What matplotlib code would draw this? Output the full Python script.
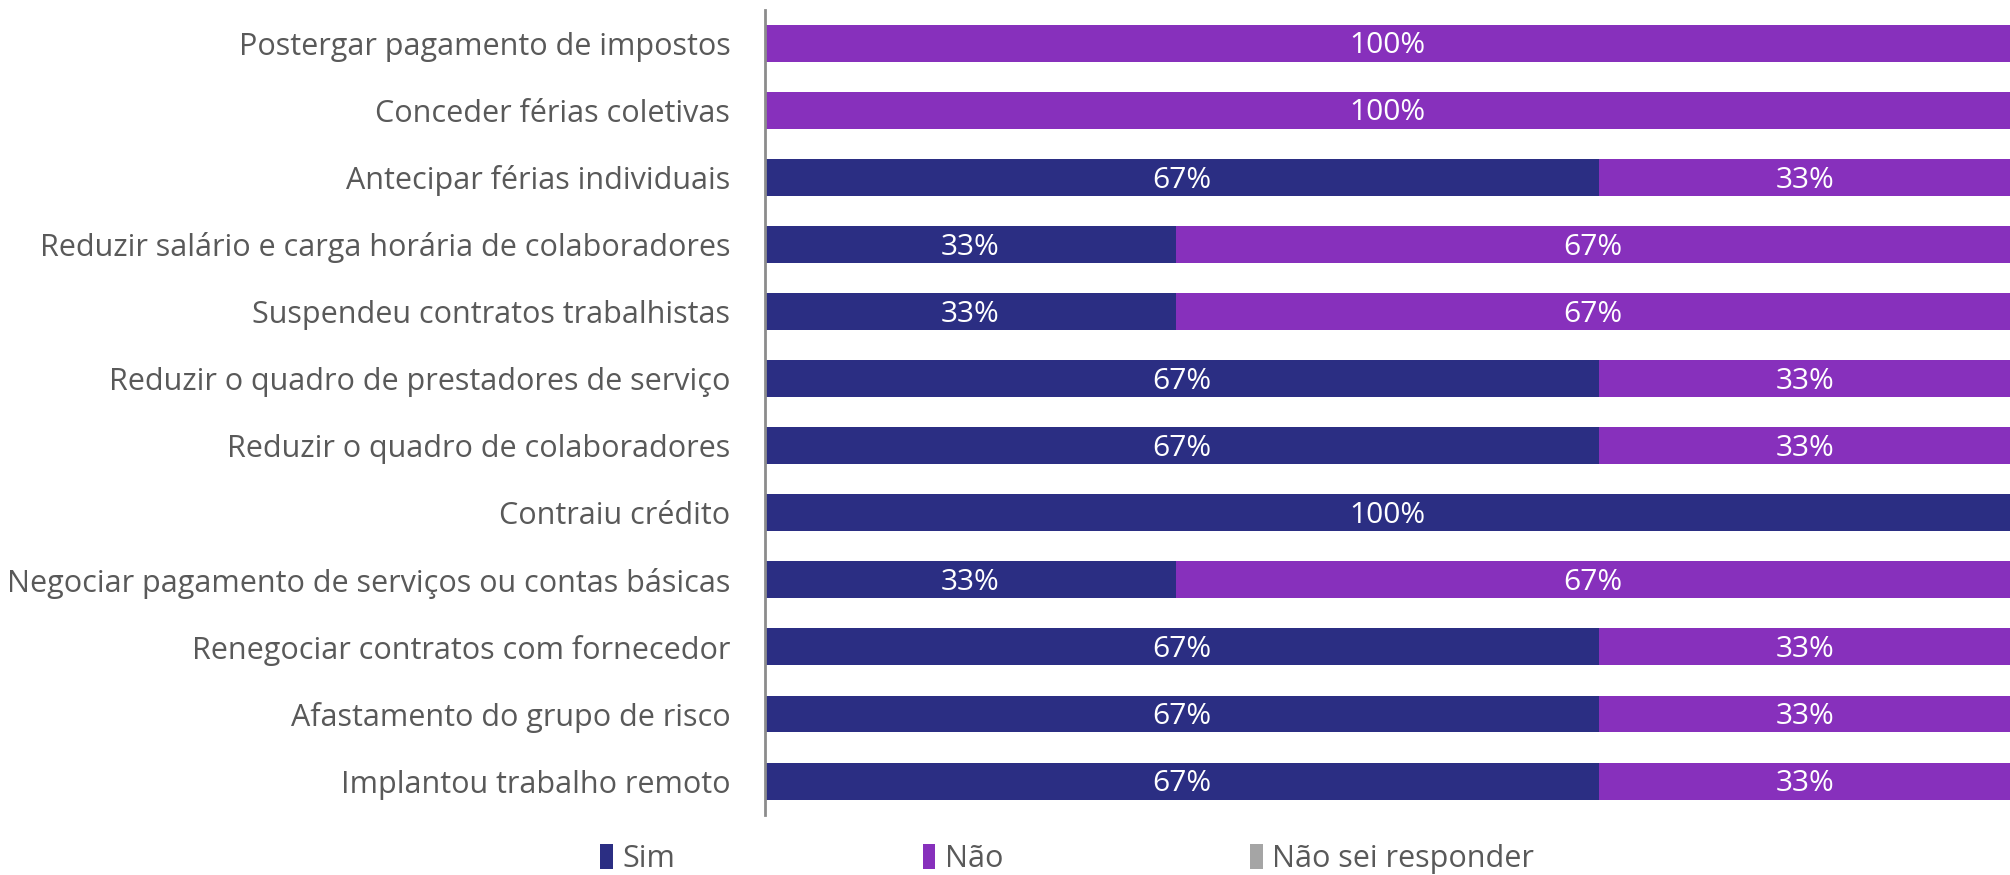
import numpy as np
import matplotlib
matplotlib.use("Agg")
import matplotlib.pyplot as plt
from matplotlib.patches import Patch

plt.rcParams['font.family'] = ['Open Sans', 'DejaVu Sans']

categorias = [
    "Postergar pagamento de impostos",
    "Conceder férias coletivas",
    "Antecipar férias individuais",
    "Reduzir salário e carga horária de colaboradores",
    "Suspendeu contratos trabalhistas",
    "Reduzir o quadro de prestadores de serviço",
    "Reduzir o quadro de colaboradores",
    "Contraiu crédito",
    "Negociar pagamento de serviços ou contas básicas",
    "Renegociar contratos com fornecedor",
    "Afastamento do grupo de risco",
    "Implantou trabalho remoto",
]
sim = [0, 0, 67, 33, 33, 67, 67, 100, 33, 67, 67, 67]
nao = [100, 100, 33, 67, 67, 33, 33, 0, 67, 33, 33, 33]
nao_sei = [0] * 12

series = ["Sim", "Não", "Não sei responder"]
cores = ["#2B2E83", "#8730BC", "#A5A5A5"]

fig = plt.figure(figsize=(20.10, 8.75), dpi=100)
ax = fig.add_axes([0.3806, 0.069, 0.6194, 0.9200])

y = np.arange(len(categorias))
esquerda = np.zeros(len(categorias))
for valores, cor in zip([sim, nao, nao_sei], cores):
    valores = np.array(valores, dtype=float)
    ax.barh(y, valores, left=esquerda, height=0.55, color=cor, edgecolor='none')
    for yi, l, v in zip(y, esquerda, valores):
        if v > 0:
            ax.text(l + v / 2, yi + 0.04, f"{v:.0f}%", ha='center', va='center',
                    color='white', fontsize=21.5)
    esquerda += valores

ax.set_xlim(0, 100)
ax.set_ylim(len(categorias) - 0.5, -0.5)
ax.set_yticks(y)
ax.set_yticklabels(categorias, fontsize=22, color='#595959')
ax.tick_params(axis='y', length=0, pad=25)
ax.set_xticks([])
for lado in ['top', 'right', 'bottom']:
    ax.spines[lado].set_visible(False)
ax.spines['left'].set_color('#8C8C8C')
ax.spines['left'].set_linewidth(2)

handles = [Patch(facecolor=c, edgecolor='none') for c in cores]
fig.legend(handles, series, loc='center', bbox_to_anchor=(0.531, 0.018),
           ncol=3, frameon=False, fontsize=22, labelcolor='#595959',
           handlelength=0.42, handleheight=0.86, handletextpad=0.3,
           columnspacing=8.1, borderpad=0)

fig.savefig("out.png", dpi=100)
